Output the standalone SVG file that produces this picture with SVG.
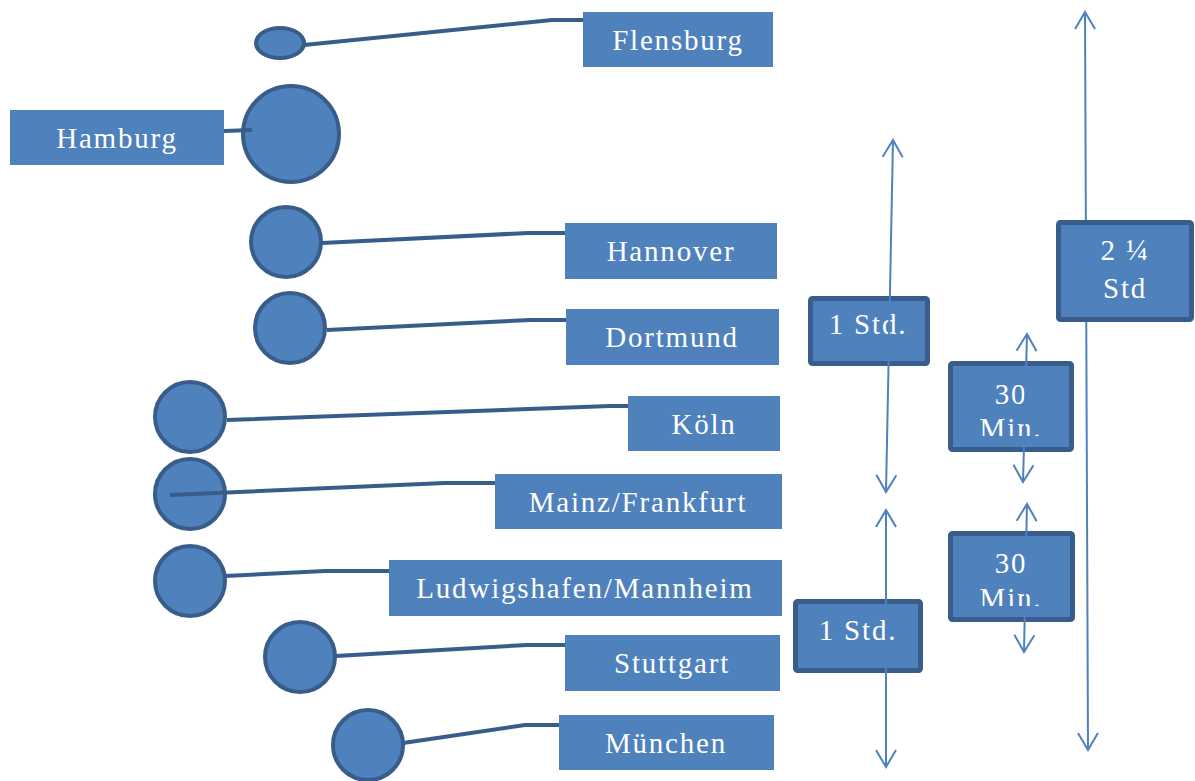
<svg xmlns="http://www.w3.org/2000/svg" width="1195" height="781" viewBox="0 0 1195 781">
<style>
.lbl{fill:#4F81BD}
.dot{fill:#4F81BD;stroke:#385D8A;stroke-width:4}
.box{fill:#4F81BD;stroke:#385D8A;stroke-width:5}
.con{fill:none;stroke:#385D8A;stroke-width:4}
.arr{fill:none;stroke:#4F81BD;stroke-width:2;marker-start:url(#ah);marker-end:url(#ah)}
text{font-family:'Liberation Serif','DejaVu Serif',serif;font-size:29px;fill:#FFFFFF;text-anchor:middle;letter-spacing:1.8px}
</style>
<defs>
<marker id="ah" markerUnits="userSpaceOnUse" markerWidth="22" markerHeight="22" refX="18" refY="11" orient="auto-start-reverse">
<path d="M1,1 L18,11 L1,21" fill="none" stroke="#4F81BD" stroke-width="2"/>
</marker>
<clipPath id="c1"><rect x="950" y="363" width="124" height="73"/></clipPath>
<clipPath id="c2"><rect x="950" y="533" width="124" height="73"/></clipPath>
</defs>

<g id="dots">
<ellipse class="dot" cx="280" cy="43" rx="24" ry="15"/>
<circle class="dot" cx="291" cy="134" r="48"/>
<circle class="dot" cx="286" cy="242" r="35"/>
<circle class="dot" cx="290" cy="328" r="35"/>
<circle class="dot" cx="190" cy="417" r="35"/>
<circle class="dot" cx="190" cy="494" r="35"/>
<circle class="dot" cx="190" cy="581" r="35"/>
<circle class="dot" cx="300" cy="657" r="35"/>
<circle class="dot" cx="368" cy="745" r="35"/>
</g>

<g id="connectors">
<polyline class="con" points="304,45 552,20 583,20"/>
<polyline class="con" points="224,131 252,130"/>
<polyline class="con" points="322,243 528,233 565,233"/>
<polyline class="con" points="327,330 530,320 566,320"/>
<polyline class="con" points="227,420 610,406 628,406"/>
<polyline class="con" points="170,495 445,483 495,483"/>
<polyline class="con" points="225,576 325,571 389,571"/>
<polyline class="con" points="336,656 527,645 565,645"/>
<polyline class="con" points="403,743 525,725 559,725"/>
</g>

<g id="flensburg"><rect class="lbl" x="583" y="12" width="190" height="55"/><text x="678" y="50">Flensburg</text></g>
<g id="hamburg"><rect class="lbl" x="10" y="110" width="214" height="55"/><text x="117" y="148">Hamburg</text></g>
<g id="hannover"><rect class="lbl" x="565" y="223" width="212" height="56"/><text x="671" y="261">Hannover</text></g>
<g id="dortmund"><rect class="lbl" x="566" y="309" width="213" height="56"/><text x="672" y="347">Dortmund</text></g>
<g id="koeln"><rect class="lbl" x="628" y="396" width="152" height="55"/><text x="704" y="434">Köln</text></g>
<g id="mainz"><rect class="lbl" x="495" y="474" width="287" height="55"/><text x="638" y="512">Mainz/Frankfurt</text></g>
<g id="ludwigshafen"><rect class="lbl" x="389" y="560" width="393" height="56"/><text x="585" y="598">Ludwigshafen/Mannheim</text></g>
<g id="stuttgart"><rect class="lbl" x="565" y="635" width="215" height="56"/><text x="672" y="673">Stuttgart</text></g>
<g id="muenchen"><rect class="lbl" x="559" y="715" width="215" height="55"/><text x="666" y="753">München</text></g>

<g id="arrow-total">
<line class="arr" x1="1085" y1="12" x2="1088" y2="750"/>
</g>
<g id="dur-total"><rect class="box" x="1058.5" y="222.5" width="133" height="97" rx="2"/><text x="1125" y="260">2 ¼</text><text x="1125" y="298">Std</text></g>

<g id="dur-1std-a"><rect class="box" x="810.5" y="298.5" width="117" height="65" rx="2"/><text x="868" y="334">1 Std.</text></g>
<g id="dur-30-a"><rect class="box" x="950.5" y="363.5" width="121" height="86" rx="2"/><g clip-path="url(#c1)"><text x="1011" y="404">30</text><text x="1011" y="438">Min.</text></g></g>
<g id="dur-30-b"><rect class="box" x="950.5" y="533.5" width="122" height="86" rx="2"/><g clip-path="url(#c2)"><text x="1011" y="573">30</text><text x="1011" y="608">Min.</text></g></g>
<g id="dur-1std-b"><rect class="box" x="795.5" y="601.5" width="125" height="69" rx="2"/><text x="858" y="640">1 Std.</text></g>

<g id="arrows">
<line class="arr" x1="893" y1="140" x2="886" y2="492"/>
<line class="arr" x1="886" y1="510" x2="886" y2="767"/>
<line class="arr" x1="1027" y1="334" x2="1023" y2="482"/>
<line class="arr" x1="1027" y1="504" x2="1024" y2="652"/>
</g>
</svg>
